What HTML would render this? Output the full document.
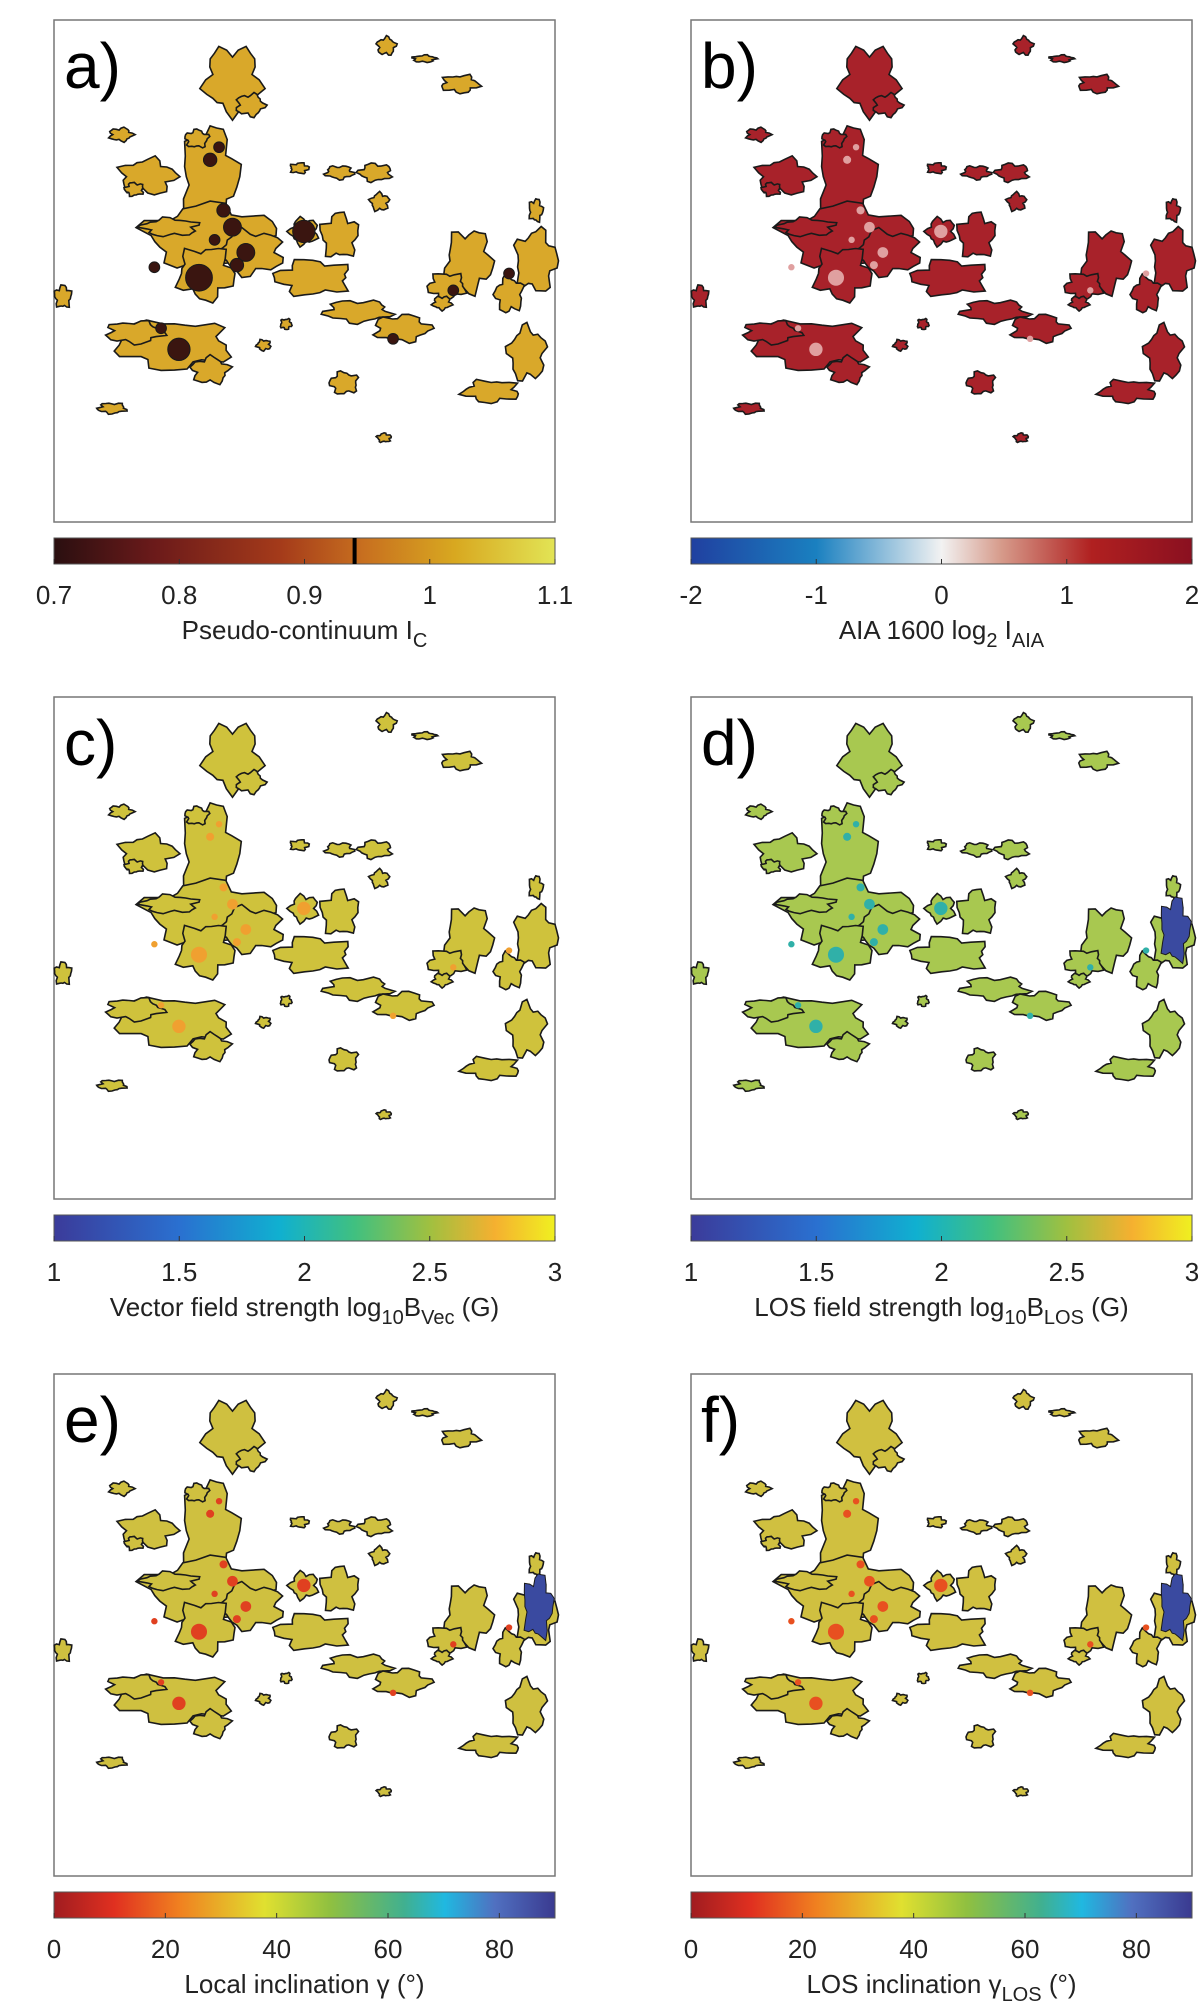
<!DOCTYPE html>
<html><head><meta charset="utf-8"><style>
html,body{margin:0;padding:0;background:#fff;}
svg{display:block;font-family:"Liberation Sans",sans-serif;}
</style></head><body>
<svg id="fig" width="1200" height="2012" viewBox="0 0 1200 2012" xmlns="http://www.w3.org/2000/svg">
<defs>
<linearGradient id="g0" x1="0" x2="1"><stop offset="0" stop-color="#2a0f10"/><stop offset=".2" stop-color="#6b1a1a"/><stop offset=".45" stop-color="#a43a1a"/><stop offset=".62" stop-color="#c8701f"/><stop offset=".8" stop-color="#d8a820"/><stop offset="1" stop-color="#e2e455"/></linearGradient>
<linearGradient id="g1" x1="0" x2="1"><stop offset="0" stop-color="#2040a0"/><stop offset=".25" stop-color="#1a80c0"/><stop offset=".5" stop-color="#f2f2f2"/><stop offset=".62" stop-color="#d69a8a"/><stop offset=".8" stop-color="#b02020"/><stop offset="1" stop-color="#8a1020"/></linearGradient>
<linearGradient id="g2" x1="0" x2="1"><stop offset="0" stop-color="#3b3b9a"/><stop offset=".25" stop-color="#2a70d0"/><stop offset=".45" stop-color="#10b0d0"/><stop offset=".6" stop-color="#40c080"/><stop offset=".75" stop-color="#a0c040"/><stop offset=".88" stop-color="#f5b030"/><stop offset="1" stop-color="#f0f020"/></linearGradient>
<linearGradient id="g3" x1="0" x2="1"><stop offset="0" stop-color="#a01c20"/><stop offset=".12" stop-color="#e03020"/><stop offset=".25" stop-color="#f08020"/><stop offset=".42" stop-color="#e0e030"/><stop offset=".55" stop-color="#90c040"/><stop offset=".7" stop-color="#40b090"/><stop offset=".78" stop-color="#20b8e0"/><stop offset=".88" stop-color="#5070c0"/><stop offset="1" stop-color="#3a3a90"/></linearGradient>
</defs>
</svg>
<script>
// blob shapes in reference-sample coordinates (cx, cy, rx, ry)
const blobX=[520,470,470,560,460,330,380,390,300,470,700,800,900,760,680,1050,1200,1180,1100,1030,865,770,250,270,140,840,760,670,850,590,640,950,1140,1000,560,440,300,990,1200,860];
const blobY=[190,420,560,600,650,420,540,820,790,880,660,740,780,560,550,620,620,840,930,200,110,910,970,320,705,410,410,400,480,820,770,140,700,680,250,330,450,720,500,1040];
const blobRX=[60,60,140,70,60,60,60,120,60,40,80,70,60,40,30,50,45,40,60,40,20,30,30,25,18,35,30,20,20,15,12,25,30,40,30,25,20,20,15,15];
const blobRY=[75,110,70,50,60,40,20,55,25,30,40,25,30,50,30,70,70,60,25,20,20,25,12,15,25,20,15,12,20,12,12,8,40,30,25,20,15,15,25,10];
const spotX=[490,470,520,550,445,500,480,680,400,360,1015,1140,880,345,530];
const spotY=[350,380,540,600,660,500,570,550,830,780,690,650,805,635,630];
const spotR=[12,15,20,20,30,15,12,25,25,12,12,12,12,12,15];
const panelLetters=['a)','b)','c)','d)','e)','f)'];
const panelFill=['#d9a82a','#a8222a','#cfc23c','#a8c850','#cfc040','#d0c040'];
const panelSpeck=['#c88a20','#e0a0a0','#f0a030','#30b0a8','#e04020','#e85020'];
const cbTicks=[[0.7,0.8,0.9,1,1.1],[-2,-1,0,1,2],[1,1.5,2,2.5,3],[1,1.5,2,2.5,3],[0,20,40,60,80],[0,20,40,60,80]];
const cbMin=[0.7,-2,1,1,0,0];
const cbMax=[1.1,2,3,3,90,90];
const cbGrad=['g0','g1','g2','g2','g3','g3'];
const cbLabel=[['Pseudo-continuum I','C',''],['AIA 1600 log','2',' I','AIA'],['Vector field strength log','10','B','Vec',' (G)'],['LOS field strength log','10','B','LOS',' (G)'],['Local inclination γ (°)'],['LOS inclination γ','LOS',' (°)']];
const NS='http://www.w3.org/2000/svg';
const svg=document.getElementById('fig');
function mk(t,a,p){const e=document.createElementNS(NS,t);for(const k in a)e.setAttribute(k,a[k]);(p||svg).appendChild(e);return e;}
function wobble(cx,cy,rx,ry,seed){
  let d='';const n=28;
  for(let k=0;k<n;k++){
    const a=k/n*2*Math.PI;
    const f=1+0.18*Math.sin(5*a+seed)+0.1*Math.sin(9*a+seed*2.3);
    d+=(k?'L':'M')+(cx+rx*f*Math.cos(a)).toFixed(1)+','+(cy+ry*f*Math.sin(a)).toFixed(1);
  }
  return d+'Z';
}
const colX=[54,691], rowY=[20,697,1374], W=501, H=502;
for(let i=0;i<6;i++){
  const x0=colX[i%2], y0=rowY[Math.floor(i/2)];
  const g=mk('g',{});
  
  
  const sx=v=>x0+(v-120)/1123*W, sy=v=>y0+(v-48)/1192*H;
  const r=mk('rect',{x:x0,y:y0,width:W,height:H,fill:'#fff',stroke:'#777','stroke-width':1.5},g);
  
  
  for(let j=0;j<blobX.length;j++){
    const e=mk('path',{d:wobble(sx(blobX[j]),sy(blobY[j]),blobRX[j]/1123*W,blobRY[j]/1192*H,j*1.7),fill:panelFill[i],stroke:'#1a1a1a','stroke-width':1.6},g);
    
    
  }
  for(let j=0;j<spotX.length;j++){
    const c=mk('circle',{cx:sx(spotX[j]),cy:sy(spotY[j]),r:spotR[j]/1123*W*(i==0?1:0.6),fill:i==0?'#3a1510':panelSpeck[i],stroke:i==0?'#1a1a1a':'none'},g);
    
    
  }
  if(i>=3){
    const b=mk('path',{d:wobble(sx(1205),sy(600),14,30,2),fill:'#3a4aa0',stroke:'#1a1a1a'},g);
    
    
  }
  const t=mk('text',{x:x0+10,y:y0+68,'font-size':64,fill:'#000'},g);
  t.textContent=panelLetters[i];
  
  
  const cy=y0+518;
  const cb=mk('rect',{x:x0,y:cy,width:W,height:26,fill:'url(#'+cbGrad[i]+')',stroke:'#555','stroke-width':1},g);
  
  
  const cx=v=>x0+(v-cbMin[i])/(cbMax[i]-cbMin[i])*W;
  cbTicks[i].forEach(v=>{
    const l=mk('line',{x1:cx(v),x2:cx(v),y1:cy+26,y2:cy+21,stroke:'#333'},g);
    
    
    const tt=mk('text',{x:cx(v),y:cy+66,'font-size':26,'text-anchor':'middle',fill:'#222'},g);
    tt.textContent=String(v);
    
    
  });
  if(i==0){
    const m=mk('rect',{x:cx(0.94)-2,y:cy,width:4,height:26,fill:'#000'},g);
    
    
  }
  const lab=mk('text',{x:x0+W/2,y:cy+101,'font-size':26,'text-anchor':'middle',fill:'#222'},g);
  
  
  cbLabel[i].forEach((s,k)=>{
    const ts=mk('tspan',{},lab);
    ts.textContent=s;
    if(k%2==1){ts.setAttribute('font-size','20');ts.setAttribute('dy','8');}
    else if(k>0){ts.setAttribute('dy','-8');}
  });
}
</script>
</body></html>
